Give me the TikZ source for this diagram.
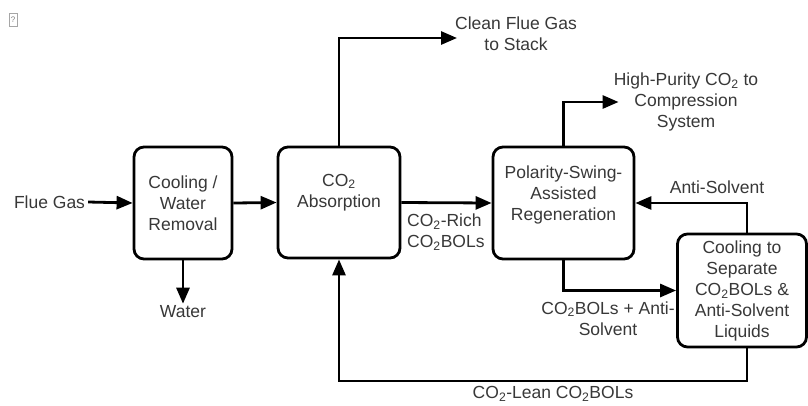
\documentclass[tikz,border=0pt]{standalone}
\usepackage{fontspec}
\setmainfont{Liberation Sans}
\usetikzlibrary{arrows.meta}
\begin{document}
\begin{tikzpicture}[x=1pt,y=-1pt,
  box/.style={draw=black, line width=2.8pt, rounded corners=10pt, inner sep=0pt},
  txt/.style={text=black!78, align=center, inner sep=0pt, font=\fontsize{17.5}{21}\selectfont},
  arr/.style={draw=black, line width=2.8pt, -{Triangle[length=16pt,width=13pt]}},
  ln/.style={draw=black, line width=2.8pt}]
\useasboundingbox[fill=white] (0,0) rectangle (808,405);
% placeholder icon
\node[draw=black!35, line width=0.8pt, minimum width=8pt, minimum height=13pt, inner sep=0pt, text=black!50, font=\fontsize{8}{9}\selectfont] (ph) at (13,20) {?};
% boxes
\node[box, minimum width=98pt, minimum height=112pt] (cool) at (183,203) {};
\node[box, minimum width=122pt, minimum height=111pt] (abs) at (339,202.5) {};
\node[box, minimum width=141pt, minimum height=112pt] (regen) at (563.5,203) {};
\node[box, minimum width=129pt, minimum height=113pt] (sep) at (742,290.5) {};
% box texts
\node[txt] (cooltxt) at (183,203) {Cooling /\\Water\\Removal};
\node[txt] (abstxt) at (339,192.5) {CO\textsubscript{2}\\Absorption};
\node[txt] (regentxt) at (563.5,195) {Polarity-Swing-\\Assisted\\Regeneration};
\node[txt] (septxt) at (742,291) {Cooling to\\Separate\\CO\textsubscript{2}BOLs \&\\Anti-Solvent\\Liquids};
% labels
\node[txt, inner sep=3pt] (flue) at (49.5,202) {Flue Gas};
\node[txt, inner sep=2pt] (water) at (183,312) {Water};
\node[txt] (clean) at (516,34) {Clean Flue Gas\\to Stack};
\node[txt] (high) at (686,102) {High-Purity CO\textsubscript{2} to\\Compression\\System};
\node[txt, align=left, anchor=west] (rich) at (407,232) {CO\textsubscript{2}-Rich\\CO\textsubscript{2}BOLs};
\node[txt] (anti) at (717,187) {Anti-Solvent};
\node[txt] (mix) at (608,318.5) {CO\textsubscript{2}BOLs + Anti-\\Solvent};
\node[txt] (lean) at (553,394) {CO\textsubscript{2}-Lean CO\textsubscript{2}BOLs};
% connectors
\draw[arr] (flue.east) -- (cool.west);
\draw[arr] (cool.south) -- (water.north);
\draw[arr] (cool.east) -- (abs.west);
\draw[arr] (abs.north) |- ([xshift=2pt,yshift=-4pt]clean.west);
\draw[arr] (abs.east) -- (regen.west);
\draw[arr] (regen.north) |- ([xshift=5pt]high.west);
\draw[arr] ([xshift=5pt]sep.north) |- (regen.east);
\draw[arr] (regen.south) |- (sep.west);
\coordinate (leancorner) at (747,381);
\draw[arr] ([xshift=5pt]sep.south) -- (leancorner) -| (abs.south);
\end{tikzpicture}
\end{document}
